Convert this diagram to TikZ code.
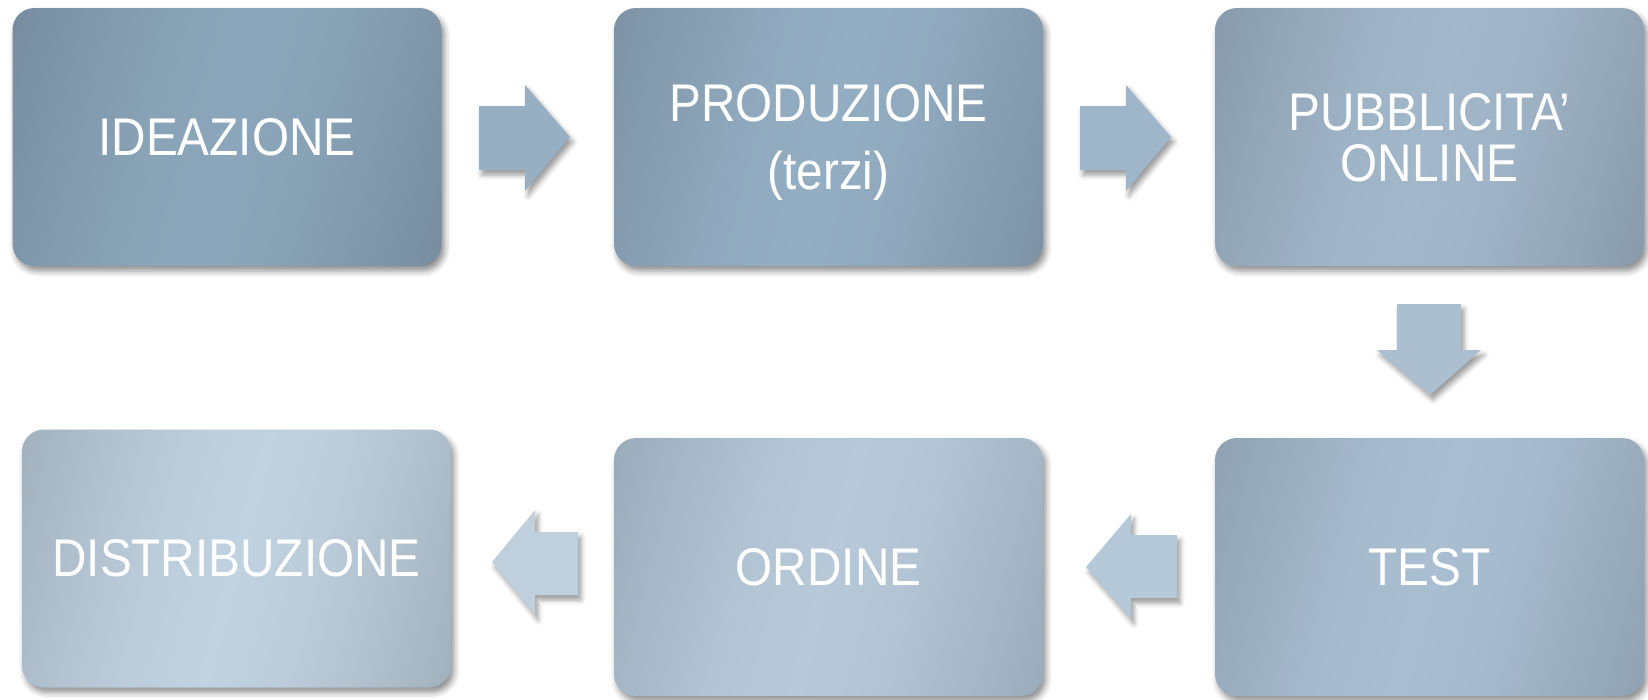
\documentclass[tikz,border=0pt]{standalone}
\usepackage{fontspec}
\newfontfamily\boxfont[FakeStretch=0.9]{Liberation Sans}
\usetikzlibrary{shadows.blur}
\definecolor{eA}{HTML}{738799}\definecolor{mA}{HTML}{8BA6BA}
\definecolor{eB}{HTML}{788C9E}\definecolor{mB}{HTML}{93ADC2}
\definecolor{eC}{HTML}{8294A5}\definecolor{mC}{HTML}{A2B7CA}
\definecolor{eD}{HTML}{899BAC}\definecolor{mD}{HTML}{A9BED1}
\definecolor{eE}{HTML}{93A4B3}\definecolor{mE}{HTML}{B7C9D8}
\definecolor{eF}{HTML}{9BA9B6}\definecolor{mF}{HTML}{C0D1DF}
\definecolor{arA}{HTML}{97AFC3}
\definecolor{arB}{HTML}{9FB6CA}
\definecolor{arC}{HTML}{ABBFD0}
\definecolor{arD}{HTML}{B5C8D8}
\definecolor{arE}{HTML}{BFCFDC}
\colorlet{edge}{eA}\colorlet{mid}{mA}
\pgfdeclareverticalshading[edge,mid]{boxsh}{100bp}{%
  color(0bp)=(edge); color(14bp)=(edge); color(28bp)=(edge!50!mid); color(40bp)=(edge!12!mid);
  color(50bp)=(mid); color(60bp)=(edge!12!mid); color(72bp)=(edge!50!mid); color(86bp)=(edge); color(100bp)=(edge)}
\begin{document}
\begin{tikzpicture}[x=1pt,y=-1pt,
  stage/.style={rectangle, rounded corners=22pt, minimum width=429pt, minimum height=258pt,
    inner sep=0pt, text=white, align=center, font=\boxfont\fontsize{53}{51}\selectfont,
    blur shadow={shadow xshift=3pt, shadow yshift=-5pt, shadow blur radius=6pt, shadow opacity=45}},
  shadeit/.style 2 args={/utils/exec={\colorlet{edge}{#1}\colorlet{mid}{#2}}, shading=boxsh, shading angle=75},
  flow/.style={draw=none, blur shadow={shadow xshift=3pt, shadow yshift=-5pt, shadow blur radius=5pt, shadow opacity=40}}]
\useasboundingbox (0,0) rectangle (1648,699);

\node[stage, shadeit={eA}{mA}] (ide) at (227,137) {IDEAZIONE};
\node[stage, shadeit={eB}{mB}, text depth=0pt] (pro) at (828.5,137) {PRODUZIONE\\[17pt](terzi)};
\node[stage, shadeit={eC}{mC}, text depth=0pt] (pub) at (1429.5,137) {PUBBLICITA’\\ONLINE};
\node[stage, shadeit={eD}{mD}] (tst) at (1429.5,567) {TEST};
\node[stage, shadeit={eE}{mE}] (ord) at (828.5,567) {ORDINE};
\node[stage, shadeit={eF}{mF}] (dis) at (236.5,558.5) {DISTRIBUZIONE};

% block arrows
\path[flow, fill=arA] (479,106) -- (525,106) -- (525,85) -- (570,137) -- (525,191) -- (525,170) -- (479,170) -- cycle;
\path[flow, fill=arB] (1080,106) -- (1126,106) -- (1126,85) -- (1171,137) -- (1126,191) -- (1126,170) -- (1080,170) -- cycle;
\path[flow, fill=arC] (1397,304) -- (1461,304) -- (1461,350) -- (1481,350) -- (1430,395) -- (1377,350) -- (1397,350) -- cycle;
\path[flow, fill=arD] (1177,535) -- (1131,535) -- (1131,514) -- (1086,567) -- (1131,619) -- (1131,598) -- (1177,598) -- cycle;
\path[flow, fill=arE] (578,532) -- (535,532) -- (535,510) -- (492,562) -- (535,615) -- (535,595) -- (578,595) -- cycle;
\end{tikzpicture}
\end{document}
